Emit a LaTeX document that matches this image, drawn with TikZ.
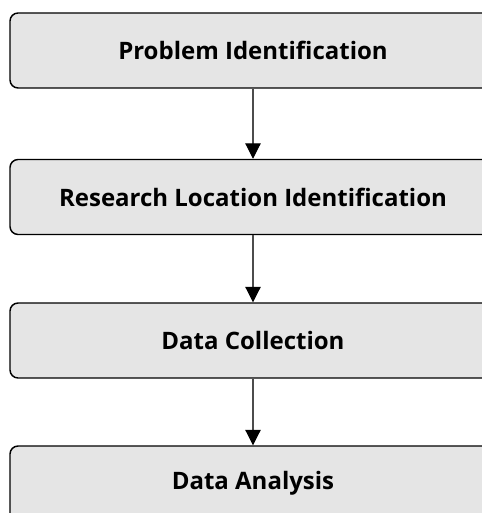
\documentclass[tikz,border=0pt]{standalone}
\usepackage{fontspec}
\setmainfont{Open Sans}
\usetikzlibrary{arrows.meta}
\tikzset{
    stepbox/.style = {rectangle, rounded corners=6pt, line width=1.1pt, draw=black, fill=gray!20,
        minimum width=364.5pt, minimum height=56.25pt, inner sep=0pt,
        font=\fontsize{18}{21}\selectfont\bfseries},
    flow/.style = {-{Triangle[width=11.5pt,length=11.5pt,black]}, line width=0.8pt, draw=black!70,
        shorten >=0pt},
    every picture/.style={x=0.75pt,y=-0.75pt}
}
\begin{document}
\begin{tikzpicture}
%
\useasboundingbox (0,0) rectangle (481,513);
\node[stepbox] at (253,50.5) (prob) {Problem Identification};
\node[stepbox] at (253,197) (loc) {Research Location Identification};
\node[stepbox] at (253,340.5) (coll) {Data Collection};
\node[stepbox] at (253,483.5) (anal) {Data Analysis};
%
\draw[flow] (prob) -- (loc);
\draw[flow] (loc) -- (coll);
\draw[flow] (coll) -- (anal);

\end{tikzpicture}
\end{document}
